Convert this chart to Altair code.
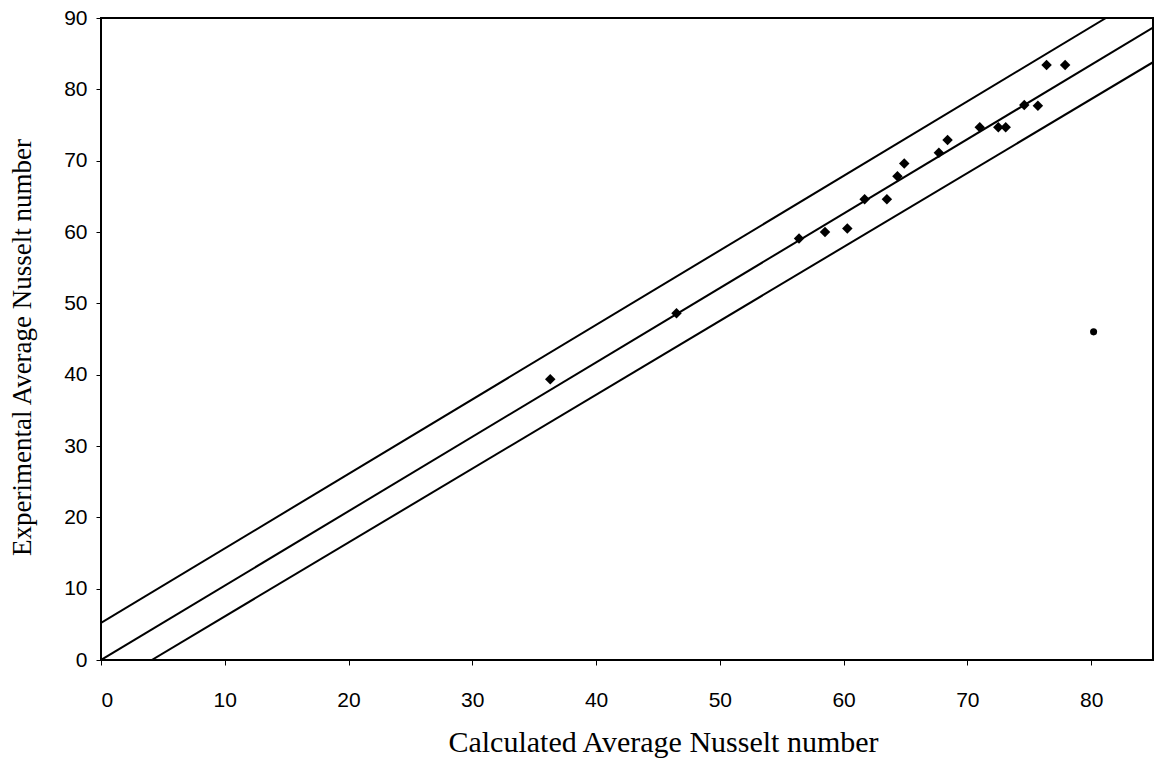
import altair as alt
import pandas as pd

# Measured points: calculated vs experimental average Nusselt number
calc_nu = [36.3, 46.5, 56.4, 58.5, 60.3, 61.7, 63.5, 64.35, 64.9, 67.7,
           68.4, 71.0, 72.5, 73.1, 74.6, 75.7, 76.4, 77.9]
expt_nu = [39.35, 48.6, 59.1, 60.0, 60.5, 64.6, 64.6, 67.8, 69.6, 71.1,
           72.9, 74.7, 74.7, 74.7, 77.8, 77.7, 83.4, 83.4]

# Single stray point drawn with a round marker
odd_calc = [80.2]
odd_expt = [46.0]

# Reference lines (fit and its upper/lower band), given by end points
line_names = ["upper", "upper", "fit", "fit", "lower", "lower"]
line_x = [0.0, 81.2, 0.0, 85.0, 4.1, 85.0]
line_y = [5.2, 90.0, 0.0, 88.65, 0.0, 83.8]

x_ticks = [0, 10, 20, 30, 40, 50, 60, 70, 80]
y_ticks = [0, 10, 20, 30, 40, 50, 60, 70, 80, 90]

pts = pd.DataFrame({"calc": calc_nu, "expt": expt_nu})
odd = pd.DataFrame({"calc": odd_calc, "expt": odd_expt})
lines = pd.DataFrame({"name": line_names, "calc": line_x, "expt": line_y})

x_scale = alt.Scale(domain=[0, 85], nice=False, zero=False)
y_scale = alt.Scale(domain=[0, 90], nice=False, zero=False)

x_axis = alt.Axis(
    values=x_ticks, grid=False, domain=False, tickSize=5, tickColor="black",
    labelPadding=24, labelFont="Liberation Sans", labelFontSize=21,
    labelColor="black", title="Calculated Average Nusselt number",
    titleFont="Liberation Serif", titleFontSize=30, titleFontWeight="normal",
    titleColor="black", titleBaseline="middle", titleAlign="center",
    titleX=562, titleY=82,
)
y_axis = alt.Axis(
    values=y_ticks, grid=False, domain=False, tickSize=5, tickColor="black",
    labelPadding=9, labelFont="Liberation Sans", labelFontSize=21,
    labelColor="black", title="Experimental Average Nusselt number",
    titleFont="Liberation Serif", titleFontSize=27, titleFontWeight="normal",
    titleColor="black", titleAngle=270, titleBaseline="middle",
    titleX=-79, titleY=329,
)

band = alt.Chart(lines).mark_line(color="black", strokeWidth=2, clip=True).encode(
    x=alt.X("calc:Q", scale=x_scale, axis=x_axis),
    y=alt.Y("expt:Q", scale=y_scale, axis=y_axis),
    detail="name:N",
)

diamonds = alt.Chart(pts).mark_point(
    shape="diamond", filled=True, color="black", size=110, opacity=1
).encode(
    x=alt.X("calc:Q", scale=x_scale),
    y=alt.Y("expt:Q", scale=y_scale),
)

stray = alt.Chart(odd).mark_point(
    shape="circle", filled=True, color="black", size=50, opacity=1
).encode(
    x=alt.X("calc:Q", scale=x_scale),
    y=alt.Y("expt:Q", scale=y_scale),
)

chart = (
    alt.layer(band, diamonds, stray)
    .properties(
        width=1052,
        height=642,
        autosize=alt.AutoSizeParams(type="none"),
        padding={"left": 101, "top": 18, "right": 4, "bottom": 102},
        background="white",
    )
    .configure_view(stroke="black", strokeWidth=2)
)

chart.save("out.html", embed_options={"renderer": "svg", "actions": False})
